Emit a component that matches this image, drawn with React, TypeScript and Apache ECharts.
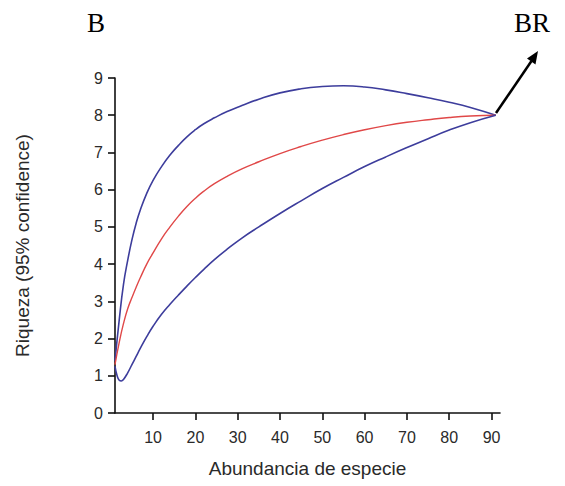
import React, { useEffect, useRef } from "react";
import * as echarts from "echarts";

const upperX = [1, 2, 3, 4, 5, 6, 7, 8.5, 10, 12, 14, 16, 18, 20, 22, 24.5, 27.5, 31, 35, 40, 45, 50, 55, 60, 65, 70, 75, 80, 85, 91];
const upperY = [1.4, 2.5, 3.45, 4.1, 4.65, 5.1, 5.46, 5.9, 6.25, 6.62, 6.93, 7.19, 7.42, 7.61, 7.77, 7.93, 8.1, 8.26, 8.43, 8.6, 8.71, 8.77, 8.79, 8.76, 8.68, 8.58, 8.47, 8.35, 8.21, 8.0];

const meanX = [1, 2, 3, 4, 5, 6, 7, 8.5, 10, 12, 14, 16, 18, 20, 22, 24.5, 27.5, 31, 35, 40, 45, 50, 55, 60, 65, 70, 75, 80, 85, 91];
const meanY = [1.3, 1.9, 2.4, 2.8, 3.1, 3.38, 3.64, 4.0, 4.3, 4.68, 5.0, 5.29, 5.55, 5.77, 5.96, 6.16, 6.36, 6.56, 6.75, 6.97, 7.16, 7.33, 7.48, 7.61, 7.72, 7.81, 7.88, 7.94, 7.98, 8.0];

const lowerX = [1, 1.5, 2, 2.5, 3, 4, 5, 6, 7, 8.5, 10, 12, 14, 16, 18, 20, 22, 24.5, 27.5, 31, 35, 40, 45, 50, 55, 60, 65, 70, 75, 80, 85, 91];
const lowerY = [1.25, 1.0, 0.88, 0.86, 0.9, 1.08, 1.3, 1.52, 1.74, 2.05, 2.33, 2.65, 2.92, 3.17, 3.41, 3.64, 3.86, 4.12, 4.4, 4.7, 5.0, 5.36, 5.7, 6.03, 6.33, 6.62, 6.88, 7.13, 7.37, 7.6, 7.8, 8.0];

const xTicks = [10, 20, 30, 40, 50, 60, 70, 80, 90];
const xName = "Abundancia de especie";
const yName = "Riqueza (95% confidence)";
const panelLabel = "B";
const siteLabel = "BR";

const zip = (xs: number[], ys: number[]) => xs.map((x, i) => [x, ys[i]]);

export default function App() {
  const ref = useRef<HTMLDivElement>(null);
  useEffect(() => {
    if (!ref.current) return;
    const chart = echarts.init(ref.current, undefined, { renderer: "svg" });
    const blue = "#3d3d9c";
    const red = "#e04848";
    const axisFont = { fontFamily: "Liberation Sans", fontSize: 16, color: "#2a2a2a" };
    const lineBase = { type: "line", smooth: 0.5, showSymbol: false };
    chart.setOption({
      animation: false,
      backgroundColor: "#ffffff",
      grid: { left: 115, right: 65, top: 78, bottom: 73 },
      xAxis: {
        type: "value",
        min: 1,
        max: 92,
        name: xName,
        nameLocation: "middle",
        nameGap: 46,
        nameTextStyle: { fontFamily: "Liberation Sans", fontSize: 19, color: "#2a2a2a" },
        axisLine: { show: true, onZero: false, lineStyle: { color: "#111", width: 1.6 } },
        axisTick: { show: true, customValues: xTicks, length: 7, lineStyle: { color: "#111", width: 1.6 } },
        axisLabel: { customValues: xTicks, margin: 16, ...axisFont },
        splitLine: { show: false },
      },
      yAxis: {
        type: "value",
        min: 0,
        max: 9,
        interval: 1,
        name: yName,
        nameLocation: "middle",
        nameGap: 83,
        nameTextStyle: { fontFamily: "Liberation Sans", fontSize: 19, color: "#2a2a2a" },
        axisLine: { show: true, lineStyle: { color: "#111", width: 1.6 } },
        axisTick: { show: true, length: 7, lineStyle: { color: "#111", width: 1.6 } },
        axisLabel: { margin: 12, ...axisFont },
        splitLine: { show: false },
      },
      series: [
        { ...lineBase, data: zip(upperX, upperY), lineStyle: { color: blue, width: 1.6 } },
        { ...lineBase, data: zip(meanX, meanY), lineStyle: { color: red, width: 1.4 } },
        { ...lineBase, data: zip(lowerX, lowerY), lineStyle: { color: blue, width: 1.6 } },
      ],
      graphic: [
        {
          type: "text",
          left: 87,
          top: 9,
          style: { text: panelLabel, font: "27px 'Liberation Serif'", fill: "#000" },
        },
        {
          type: "text",
          left: 514,
          top: 9,
          style: { text: siteLabel, font: "27px 'Liberation Serif'", fill: "#000" },
        },
        {
          type: "line",
          shape: { x1: 496, y1: 113, x2: 531.5, y2: 61 },
          style: { stroke: "#000", lineWidth: 2.5 },
        },
        {
          type: "polygon",
          shape: { points: [[538, 51], [535.5, 64.5], [527, 58.5]] },
          style: { fill: "#000" },
        },
      ],
    });
    return () => chart.dispose();
  }, []);
  return (
    <div
      ref={ref}
      style={{ position: "fixed", left: 0, top: 0, width: 565, height: 486, background: "#fff" }}
    />
  );
}
